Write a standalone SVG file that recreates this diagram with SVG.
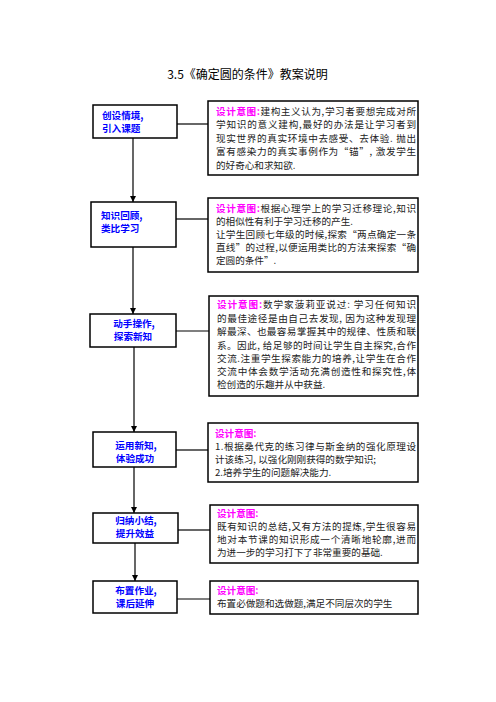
<svg xmlns="http://www.w3.org/2000/svg" width="496" height="702" viewBox="0 0 496 702">
<style>
text{font-family:"Noto Sans CJK SC","Noto Sans",sans-serif;}
.title{font-size:12px;fill:#000;}
.box{fill:#fff;stroke:#000;stroke-width:1.5;}
.lbl{font-size:9.6px;font-weight:bold;fill:#0000ff;}
.c{text-anchor:middle;}
.body{font-size:9.6px;fill:#222;}
.key{font-weight:bold;fill:#ff00ff;}
.con{stroke:#000;stroke-width:1.2;fill:none;}
.vcon{stroke:#333;stroke-width:1.5;fill:none;}
</style>
<defs>
<marker id="arr" markerUnits="userSpaceOnUse" markerWidth="6" markerHeight="6" viewBox="0 0 6 6" refX="6" refY="3" orient="auto">
<path d="M0,0 L6,3 L0,6 Z" fill="#000"/>
</marker>
</defs>
<rect width="496" height="702" fill="#fff"/>
<text class="title" x="247.5" y="79" text-anchor="middle">3.5《确定圆的条件》教案说明</text>

<g id="connectors">
<line class="con" x1="177" y1="124" x2="208" y2="124"/>
<line class="con" x1="176" y1="219" x2="208" y2="219"/>
<line class="con" x1="176" y1="331" x2="209" y2="331"/>
<line class="con" x1="176" y1="450" x2="208" y2="450"/>
<line class="con" x1="178" y1="530" x2="210" y2="530"/>
<line class="con" x1="177" y1="599" x2="210" y2="599"/>
<line class="con" x1="133" y1="138" x2="133" y2="202" marker-end="url(#arr)"/>
<line class="vcon" x1="133" y1="247" x2="133" y2="314" stroke="#666" marker-end="url(#arr)"/>
<line class="vcon" x1="134" y1="347" x2="134" y2="432" stroke="#666" marker-end="url(#arr)"/>
<line class="vcon" x1="134" y1="467" x2="134" y2="513" marker-end="url(#arr)"/>
<line class="con" x1="135" y1="543" x2="135" y2="581" marker-end="url(#arr)"/>
</g>

<g id="n1">
<rect class="box" x="93" y="105" width="84" height="33"/>
<text class="lbl" x="102" y="118.5">创设情境,</text>
<text class="lbl" x="102" y="131.5">引入课题</text>
</g>
<g id="n2">
<rect class="box" x="91" y="202" width="85" height="45"/>
<text class="lbl" x="101" y="219">知识回顾,</text>
<text class="lbl" x="101" y="232">类比学习</text>
</g>
<g id="n3">
<rect class="box" x="90" y="314" width="86" height="33"/>
<text class="lbl c" x="134" y="327">动手操作,</text>
<text class="lbl c" x="133" y="340">探索新知</text>
</g>
<g id="n4">
<rect class="box" x="93" y="432" width="83" height="35"/>
<text class="lbl c" x="136" y="448.5">运用新知,</text>
<text class="lbl c" x="135" y="461.5">体验成功</text>
</g>
<g id="n5">
<rect class="box" x="93" y="513" width="85" height="30"/>
<text class="lbl c" x="136" y="524">归纳小结,</text>
<text class="lbl c" x="135" y="537">提升效益</text>
</g>
<g id="n6">
<rect class="box" x="93" y="581" width="84" height="32"/>
<text class="lbl c" x="136" y="594">布置作业,</text>
<text class="lbl c" x="135" y="607">课后延伸</text>
</g>

<g id="r1">
<rect class="box" x="208" y="101" width="210" height="74"/>
<text class="body" x="216" y="114.5" textLength="200" lengthAdjust="spacing"><tspan class="key">设计意图:</tspan>建构主义认为,学习者要想完成对所</text>
<text class="body" x="216" y="128" textLength="200" lengthAdjust="spacing">学知识的意义建构,最好的办法是让学习者到</text>
<text class="body" x="216" y="141.5" textLength="200" lengthAdjust="spacing">现实世界的真实环境中去感受、去体验. 抛出</text>
<text class="body" x="216" y="155" textLength="200" lengthAdjust="spacing">富有感染力的真实事例作为“锚”, 激发学生</text>
<text class="body" x="216" y="168.5">的好奇心和求知欲.</text>
</g>
<g id="r2">
<rect class="box" x="208" y="198" width="210" height="74"/>
<text class="body" x="216" y="211.5" textLength="200" lengthAdjust="spacing"><tspan class="key">设计意图:</tspan>根据心理学上的学习迁移理论,知识</text>
<text class="body" x="216" y="224.5">的相似性有利于学习迁移的产生.</text>
<text class="body" x="216" y="237.5" textLength="200" lengthAdjust="spacing">让学生回顾七年级的时候,探索“两点确定一条</text>
<text class="body" x="216" y="250.5" textLength="200" lengthAdjust="spacing">直线”的过程,以便运用类比的方法来探索“确</text>
<text class="body" x="216" y="263.5">定圆的条件”.</text>
</g>
<g id="r3">
<rect class="box" x="209" y="296" width="209" height="100"/>
<text class="body" x="217" y="308" textLength="199" lengthAdjust="spacing"><tspan class="key">设计意图:</tspan>数学家菠莉亚说过: 学习任何知识</text>
<text class="body" x="217" y="321.5" textLength="199" lengthAdjust="spacing">的最佳途径是由自己去发现, 因为这种发现理</text>
<text class="body" x="217" y="335" textLength="199" lengthAdjust="spacing">解最深、也最容易掌握其中的规律、性质和联</text>
<text class="body" x="217" y="348.5" textLength="199" lengthAdjust="spacing">系。因此, 给足够的时间让学生自主探究,合作</text>
<text class="body" x="217" y="362" textLength="199" lengthAdjust="spacing">交流.注重学生探索能力的培养,让学生在合作</text>
<text class="body" x="217" y="375" textLength="199" lengthAdjust="spacing">交流中体会数学活动充满创造性和探究性,体</text>
<text class="body" x="217" y="388">检创造的乐趣并从中获益.</text>
</g>
<g id="r4">
<rect class="box" x="208" y="423" width="210" height="59"/>
<text class="body key" x="215" y="436.5">设计意图:</text>
<text class="body" x="215" y="449.5" textLength="201" lengthAdjust="spacing">1.根据桑代克的练习律与斯金纳的强化原理设</text>
<text class="body" x="215" y="462.5">计该练习, 以强化刚刚获得的数学知识;</text>
<text class="body" x="215" y="475.5">2.培养学生的问题解决能力.</text>
</g>
<g id="r5">
<rect class="box" x="210" y="505" width="208" height="58"/>
<text class="body key" x="217" y="516.5">设计意图:</text>
<text class="body" x="217" y="529.5" textLength="199" lengthAdjust="spacing">既有知识的总结,又有方法的提炼,学生很容易</text>
<text class="body" x="217" y="542.5" textLength="199" lengthAdjust="spacing">地对本节课的知识形成一个清晰地轮廓,进而</text>
<text class="body" x="217" y="555.5">为进一步的学习打下了非常重要的基础.</text>
</g>
<g id="r6">
<rect class="box" x="210" y="581" width="208" height="33"/>
<text class="body key" x="217" y="594">设计意图:</text>
<text class="body" x="217" y="607">布置必做题和选做题,满足不同层次的学生</text>
</g>
</svg>
